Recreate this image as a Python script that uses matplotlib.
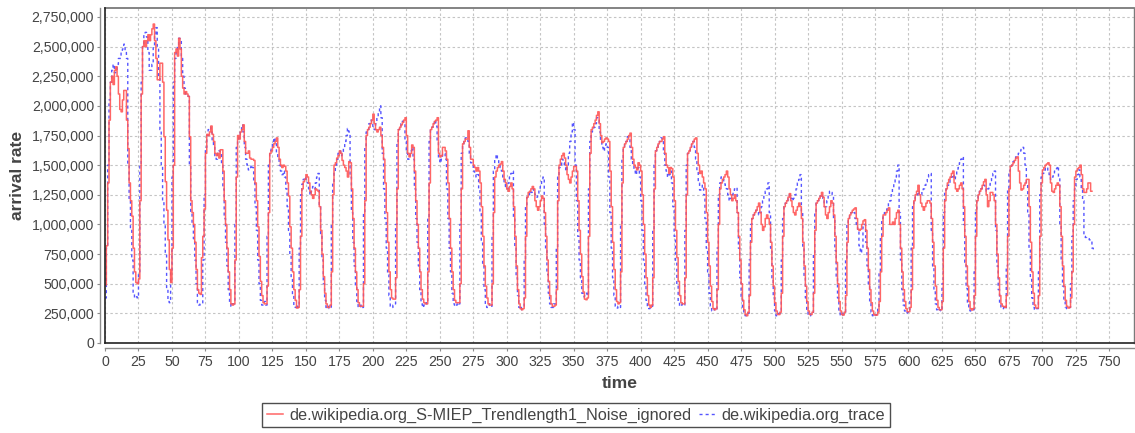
import numpy as np
import matplotlib
matplotlib.use("Agg")
import matplotlib.pyplot as plt
from matplotlib.lines import Line2D
from matplotlib.ticker import FixedLocator, FuncFormatter

plt.rcParams['font.family'] = ['Liberation Sans', 'DejaVu Sans']

# ---------------- data ----------------
series_names = ["de.wikipedia.org_S-MIEP_Trendlength1_Noise_ignored",
                "de.wikipedia.org_trace"]
x_label = "time"
y_label = "arrival rate"
x_ticks = list(range(0, 751, 25))
y_ticks = list(range(0, 2750001, 250000))

# forecast (red, step line), hourly values in thousands
forecast_k = [
    490, 820, 1350, 1880, 2200, 2250, 2180, 2300, 2330, 2250, 2100, 1970, 1950, 2050, 2130, 2130, 1880, 1640, 1350, 1200, 1070, 800, 600, 510,
    500, 540, 1200, 2100, 2500, 2550, 2500, 2550, 2600, 2550, 2600, 2650, 2690, 2550, 2400, 2220, 2220, 2360, 2360, 2200, 1740, 1360, 1120, 870,
    620, 510, 800, 1500, 2450, 2480, 2420, 2570, 2480, 2250, 2150, 2100, 2120, 2100, 2080, 1740, 1200, 1100, 1000, 850, 620, 450, 420, 410,
    720, 900, 1130, 1600, 1760, 1750, 1780, 1830, 1760, 1700, 1600, 1580, 1600, 1560, 1630, 1630, 1450, 1200, 1000, 800, 600, 450, 330, 320,
    330, 700, 1400, 1750, 1720, 1780, 1800, 1840, 1700, 1600, 1600, 1620, 1560, 1550, 1550, 1540, 1350, 1200, 980, 730, 520, 400, 340, 330,
    330, 480, 1100, 1600, 1620, 1650, 1680, 1700, 1730, 1650, 1550, 1500, 1480, 1500, 1490, 1450, 1350, 1240, 980, 800, 600, 450, 360, 295,
    300, 450, 900, 1300, 1360, 1380, 1420, 1400, 1350, 1280, 1250, 1220, 1250, 1300, 1290, 1280, 1150, 950, 750, 560, 420, 330, 300, 300,
    320, 600, 1250, 1500, 1520, 1560, 1580, 1620, 1600, 1540, 1500, 1480, 1450, 1400, 1530, 1520, 1300, 1050, 800, 600, 450, 340, 310, 310,
    310, 500, 1200, 1750, 1800, 1820, 1850, 1880, 1930, 1850, 1800, 1780, 1800, 1820, 1750, 1650, 1550, 1350, 1100, 850, 600, 450, 380, 370,
    370, 550, 1300, 1800, 1820, 1840, 1860, 1880, 1900, 1750, 1600, 1570, 1600, 1670, 1650, 1450, 1200, 1000, 800, 600, 450, 370, 340, 330,
    330, 600, 1350, 1800, 1820, 1850, 1870, 1880, 1900, 1600, 1570, 1580, 1650, 1650, 1620, 1550, 1350, 1050, 800, 600, 450, 360, 340, 340,
    340, 500, 1300, 1680, 1700, 1720, 1720, 1790, 1650, 1550, 1550, 1500, 1480, 1450, 1480, 1450, 1350, 1150, 900, 650, 480, 380, 330, 320,
    320, 500, 1100, 1400, 1450, 1480, 1500, 1510, 1530, 1450, 1380, 1350, 1300, 1280, 1320, 1350, 1300, 1150, 900, 650, 450, 330, 290, 280,
    290, 380, 900, 1230, 1270, 1280, 1300, 1320, 1300, 1200, 1150, 1120, 1150, 1200, 1240, 1220, 1100, 900, 700, 520, 400, 330, 310, 310,
    320, 450, 1200, 1500, 1550, 1580, 1600, 1560, 1500, 1420, 1380, 1350, 1400, 1450, 1490, 1490, 1450, 1200, 950, 750, 560, 430, 370, 365,
    380, 900, 1600, 1800, 1820, 1850, 1880, 1920, 1950, 1850, 1750, 1690, 1700, 1720, 1730, 1720, 1700, 1450, 1150, 850, 620, 450, 350, 330,
    340, 600, 1350, 1650, 1680, 1700, 1720, 1750, 1770, 1650, 1550, 1500, 1480, 1460, 1520, 1500, 1450, 1250, 1000, 750, 550, 400, 320, 300,
    320, 550, 1300, 1620, 1650, 1680, 1700, 1700, 1720, 1740, 1600, 1500, 1480, 1430, 1480, 1470, 1400, 1200, 950, 720, 520, 400, 340, 330,
    330, 550, 1250, 1600, 1620, 1650, 1680, 1700, 1720, 1730, 1600, 1500, 1430, 1450, 1400, 1350, 1300, 1100, 850, 650, 480, 350, 290, 280,
    290, 450, 1000, 1300, 1350, 1380, 1400, 1420, 1450, 1400, 1300, 1250, 1200, 1220, 1250, 1200, 1100, 900, 700, 500, 360, 280, 240, 230,
    260, 400, 850, 1050, 1080, 1100, 1120, 1150, 1180, 1100, 1000, 950, 980, 1050, 1080, 1050, 1000, 850, 650, 480, 340, 270, 240, 240,
    260, 420, 900, 1150, 1180, 1200, 1230, 1260, 1200, 1150, 1100, 1080, 1120, 1150, 1180, 1150, 1050, 850, 650, 480, 350, 270, 240, 240,
    260, 420, 950, 1180, 1200, 1220, 1240, 1270, 1230, 1150, 1080, 1050, 1100, 1150, 1200, 1180, 1080, 900, 680, 500, 350, 270, 240, 236,
    260, 400, 850, 1050, 1080, 1100, 1120, 1130, 1140, 1050, 960, 950, 960, 1000, 1030, 1040, 950, 800, 620, 450, 340, 270, 240, 235,
    236, 260, 350, 600, 900, 1080, 1080, 1100, 1120, 1140, 1000, 1000, 1020, 1000, 1050, 1100, 1120, 1000, 800, 600, 450, 350, 290, 264,
    264, 300, 450, 800, 1200, 1250, 1280, 1330, 1250, 1180, 1150, 1120, 1150, 1180, 1200, 1200, 1180, 1050, 850, 650, 480, 360, 300, 280,
    280, 350, 800, 1200, 1300, 1350, 1380, 1400, 1430, 1450, 1350, 1300, 1280, 1300, 1330, 1350, 1300, 1150, 900, 650, 480, 350, 290, 278,
    290, 400, 900, 1200, 1250, 1280, 1300, 1330, 1360, 1380, 1250, 1150, 1200, 1270, 1270, 1250, 1200, 1000, 750, 550, 400, 330, 310, 307,
    300, 400, 900, 1300, 1490, 1500, 1520, 1540, 1560, 1570, 1450, 1350, 1290, 1300, 1330, 1350, 1380, 1380, 1150, 850, 600, 420, 320, 295,
    295, 400, 900, 1350, 1460, 1480, 1500, 1510, 1520, 1500, 1350, 1280, 1270, 1300, 1330, 1350, 1330, 1150, 900, 650, 480, 360, 310, 295,
    300, 380, 600, 1000, 1400, 1450, 1470, 1480, 1500, 1420, 1300, 1270, 1270, 1300, 1350, 1350, 1280, 1280,
]

# observed trace (blue, dashed), hourly values in thousands
trace_k = [
    380, 800, 1500, 2050, 2200, 2300, 2350, 2280, 2300, 2350, 2400, 2400, 2450, 2480, 2520, 2450, 2400, 1500, 1200, 950, 700, 420, 380, 390,
    380, 600, 1500, 2200, 2500, 2600, 2620, 2580, 2450, 2300, 2300, 2350, 2500, 2600, 2660, 2500, 2250, 1800, 1500, 1200, 1000, 750, 450, 350,
    340, 600, 1400, 2200, 2400, 2450, 2500, 2570, 2550, 2400, 2250, 2150, 2100, 2100, 2080, 1500, 1100, 1000, 880, 700, 500, 340, 320, 330,
    330, 700, 1250, 1650, 1750, 1800, 1820, 1780, 1700, 1650, 1580, 1550, 1600, 1620, 1600, 1500, 1300, 1050, 850, 650, 450, 330, 310, 330,
    330, 1000, 1650, 1720, 1750, 1800, 1840, 1780, 1650, 1550, 1500, 1460, 1480, 1500, 1480, 1350, 1150, 950, 700, 500, 360, 320, 320, 350,
    320, 900, 1500, 1620, 1650, 1700, 1730, 1700, 1600, 1550, 1500, 1450, 1420, 1450, 1400, 1300, 1150, 950, 750, 550, 400, 310, 300, 320,
    300, 800, 1250, 1340, 1380, 1400, 1380, 1350, 1300, 1250, 1280, 1320, 1300, 1350, 1400, 1430, 1150, 900, 700, 500, 360, 300, 290, 310,
    300, 1000, 1350, 1450, 1500, 1550, 1600, 1620, 1580, 1600, 1650, 1700, 1750, 1810, 1780, 1400, 1100, 850, 650, 480, 350, 300, 300, 320,
    300, 1100, 1650, 1780, 1800, 1850, 1880, 1850, 1820, 1800, 1850, 1900, 1950, 2000, 1900, 1600, 1300, 1050, 800, 580, 400, 310, 300, 320,
    330, 1000, 1700, 1800, 1830, 1850, 1870, 1850, 1700, 1600, 1550, 1580, 1620, 1650, 1550, 1300, 1050, 850, 650, 450, 330, 300, 320, 340,
    330, 1050, 1700, 1800, 1820, 1850, 1880, 1830, 1700, 1550, 1520, 1550, 1600, 1600, 1550, 1300, 1050, 800, 600, 420, 330, 310, 320, 340,
    330, 1000, 1600, 1680, 1700, 1730, 1720, 1700, 1600, 1520, 1500, 1450, 1420, 1400, 1420, 1300, 1100, 850, 650, 450, 320, 300, 310, 330,
    310, 900, 1450, 1550, 1590, 1550, 1500, 1480, 1450, 1400, 1350, 1320, 1300, 1350, 1400, 1430, 1450, 1050, 800, 550, 400, 300, 280, 300,
    300, 700, 1150, 1230, 1250, 1280, 1270, 1300, 1280, 1250, 1230, 1250, 1300, 1320, 1380, 1400, 1000, 780, 580, 420, 330, 300, 300, 330,
    330, 800, 1400, 1480, 1500, 1550, 1520, 1480, 1450, 1500, 1600, 1700, 1780, 1860, 1800, 1500, 1200, 900, 700, 550, 420, 390, 400, 420,
    400, 1300, 1700, 1780, 1800, 1820, 1850, 1900, 1880, 1780, 1700, 1650, 1620, 1650, 1680, 1650, 1400, 1100, 800, 550, 400, 310, 295, 310,
    300, 1000, 1550, 1650, 1680, 1700, 1740, 1720, 1650, 1550, 1500, 1450, 1420, 1450, 1480, 1400, 1200, 950, 700, 500, 360, 300, 290, 310,
    310, 950, 1500, 1620, 1650, 1680, 1700, 1730, 1700, 1600, 1500, 1450, 1400, 1420, 1450, 1350, 1150, 900, 680, 480, 350, 310, 320, 330,
    320, 950, 1500, 1600, 1620, 1650, 1680, 1700, 1650, 1550, 1450, 1350, 1290, 1300, 1330, 1250, 1050, 800, 600, 420, 310, 270, 270, 290,
    280, 800, 1250, 1350, 1400, 1380, 1350, 1330, 1300, 1250, 1200, 1220, 1250, 1280, 1300, 1310, 1100, 800, 550, 380, 280, 240, 230, 250,
    250, 700, 1000, 1050, 1080, 1100, 1120, 1100, 1080, 1100, 1150, 1200, 1250, 1280, 1300, 1350, 1100, 800, 550, 380, 270, 230, 230, 250,
    250, 700, 1050, 1150, 1180, 1200, 1230, 1250, 1220, 1200, 1220, 1250, 1300, 1350, 1380, 1420, 1100, 800, 550, 380, 270, 230, 230, 250,
    250, 750, 1100, 1180, 1200, 1220, 1240, 1250, 1220, 1150, 1150, 1200, 1250, 1280, 1270, 1250, 1050, 780, 550, 380, 270, 230, 230, 250,
    260, 700, 1000, 1050, 1080, 1100, 1110, 1100, 1050, 1000, 950, 820, 760, 800, 980, 1000, 850, 650, 480, 340, 260, 230, 225, 235,
    240, 300, 600, 900, 1050, 1080, 1100, 1120, 1150, 1180, 1200, 1250, 1300, 1350, 1400, 1450, 1500, 1100, 700, 450, 320, 270, 250, 260,
    270, 350, 800, 1150, 1200, 1230, 1250, 1280, 1260, 1250, 1280, 1300, 1330, 1360, 1400, 1420, 1430, 950, 650, 450, 330, 280, 270, 280,
    270, 500, 1100, 1280, 1300, 1330, 1350, 1380, 1400, 1420, 1380, 1400, 1450, 1480, 1520, 1550, 1570, 1000, 680, 460, 330, 280, 270, 280,
    280, 600, 1100, 1220, 1250, 1280, 1300, 1320, 1330, 1300, 1280, 1300, 1330, 1370, 1400, 1430, 1450, 950, 650, 450, 330, 290, 290, 300,
    290, 650, 1300, 1450, 1480, 1500, 1530, 1550, 1570, 1580, 1600, 1620, 1640, 1650, 1600, 1500, 1350, 1100, 800, 550, 380, 300, 280, 290,
    290, 600, 1250, 1400, 1430, 1450, 1470, 1480, 1450, 1420, 1380, 1400, 1420, 1450, 1470, 1490, 1400, 1000, 700, 480, 350, 300, 290, 300,
    300, 500, 900, 1200, 1300, 1380, 1420, 1460, 1400, 1300, 1200, 900, 890, 880, 880, 870, 860, 800, 785,
]

# ---------------- figure ----------------
W, H = 1135, 433
fig = plt.figure(figsize=(W / 100, H / 100), dpi=100)
fig.patch.set_facecolor("white")
ax = fig.add_axes([105 / W, 90 / H, 1029 / W, 335.5 / H])

forecast = np.array(forecast_k, dtype=float) * 1000
trace = np.array(trace_k, dtype=float) * 1000
t_fore = np.arange(len(forecast))
t_trace = np.arange(len(trace))

red = "#ff5555"
blue = "#5555ff"

ax.plot(t_trace, trace, drawstyle="steps-post", color=blue, lw=1.0,
        dashes=(2.2, 2.2), zorder=3)
ax.plot(t_fore, forecast, drawstyle="steps-post", color=red, lw=1.1,
        alpha=0.9, zorder=4)

ax.set_xlim(0, 768.4)
ax.set_ylim(0, 2829700)

ax.xaxis.set_major_locator(FixedLocator(x_ticks))
ax.yaxis.set_major_locator(FixedLocator(y_ticks))
ax.yaxis.set_major_formatter(FuncFormatter(lambda v, p: "{:,}".format(int(round(v)))))
ax.xaxis.set_major_formatter(FuncFormatter(lambda v, p: "{:d}".format(int(round(v)))))

ax.grid(True, color="#c4c4c4", linestyle=(0, (2.2, 2.2)), linewidth=0.8)
ax.set_axisbelow(True)

for s in ("top", "right"):
    ax.spines[s].set_visible(False)
for s in ("left", "bottom"):
    ax.spines[s].set_position(("outward", 3.4))
    ax.spines[s].set_color("#8c8c8c")
    ax.spines[s].set_linewidth(1.0)

ax.tick_params(axis="both", direction="out", length=2.3, width=0.8,
               color="#8c8c8c", labelsize=10.2, labelcolor="#444444")
ax.tick_params(axis="x", pad=2.6)
ax.tick_params(axis="y", pad=2.2)

# plot outline
ax.plot([0, 1], [1, 1], transform=ax.transAxes, color="#7a7a7a", lw=1.3, clip_on=False, zorder=5)
ax.plot([1, 1], [0, 1], transform=ax.transAxes, color="#7a7a7a", lw=1.0, clip_on=False, zorder=5)
ax.plot([0, 0], [0, 1], transform=ax.transAxes, color="#222222", lw=1.2, clip_on=False, zorder=5)
ax.plot([0, 1], [0, 0], transform=ax.transAxes, color="#222222", lw=1.2, clip_on=False, zorder=5)

fig.text(620 / W, 1 - 383 / H, x_label, ha="center", va="center",
         fontsize=12.6, fontweight="bold", color="#444444")
fig.text(18 / W, 1 - 175 / H, y_label, ha="center", va="center", rotation=90,
         fontsize=12.6, fontweight="bold", color="#444444")

handles = [Line2D([], [], color=red, lw=1.1, alpha=0.9),
           Line2D([], [], color=blue, lw=1.0, dashes=(2.2, 2.2))]
leg = fig.legend(handles, series_names, loc="center",
                 bbox_to_anchor=(576 / W, 1 - 415 / H), ncol=2, frameon=True,
                 fancybox=False, edgecolor="#222222", fontsize=11.7,
                 handlelength=1.0, handletextpad=0.4, columnspacing=0.4,
                 borderpad=0.3, labelcolor="#444444")
leg.get_frame().set_linewidth(1.0)

fig.savefig("out.png", dpi=100, facecolor="white")
